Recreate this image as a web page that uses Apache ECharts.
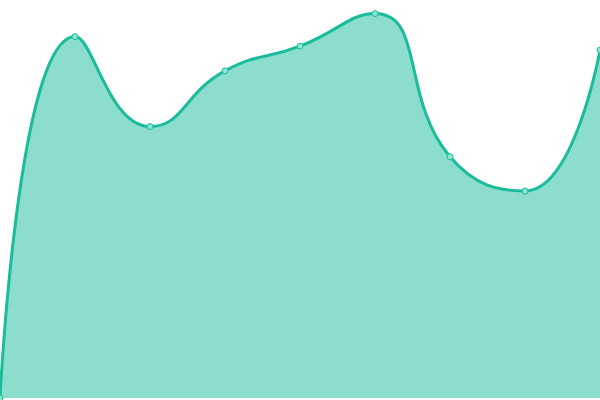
<!DOCTYPE html>
<html>
<head>
<meta charset="utf-8">
<script src="https://cdn.jsdelivr.net/npm/echarts@6/dist/echarts.min.js"></script>
<style>
  html, body { margin: 0; padding: 0; background: #fff; }
  #chart { width: 600px; height: 400px; }
</style>
</head>
<body>
<div id="chart"></div>
<script>
// categories along x (no labels shown)
const categories = ['1', '2', '3', '4', '5', '6', '7', '8', '9'];
// values, scale 0..100
const values = [0, 90.8, 68.2, 82.2, 88.4, 96.6, 60.6, 52.0, 87.4];

const chart = echarts.init(document.getElementById('chart'));

chart.setOption({
  animation: false,
  grid: { left: 0, right: 0, top: 0, bottom: 2 },
  xAxis: {
    type: 'category',
    boundaryGap: false,
    data: categories,
    show: false
  },
  yAxis: {
    type: 'value',
    min: 0,
    max: 100,
    show: false
  },
  series: [{
    type: 'line',
    smooth: 0.5,
    smoothConstraint: false,
    data: values,
    symbol: 'circle',
    symbolSize: 6,
    showSymbol: true,
    lineStyle: { color: '#1abc9c', width: 3 },
    itemStyle: { color: '#8fe3d2', borderColor: '#1abc9c', borderWidth: 1 },
    areaStyle: { color: '#1abc9c', opacity: 0.5 }
  }]
});
</script>
</body>
</html>
